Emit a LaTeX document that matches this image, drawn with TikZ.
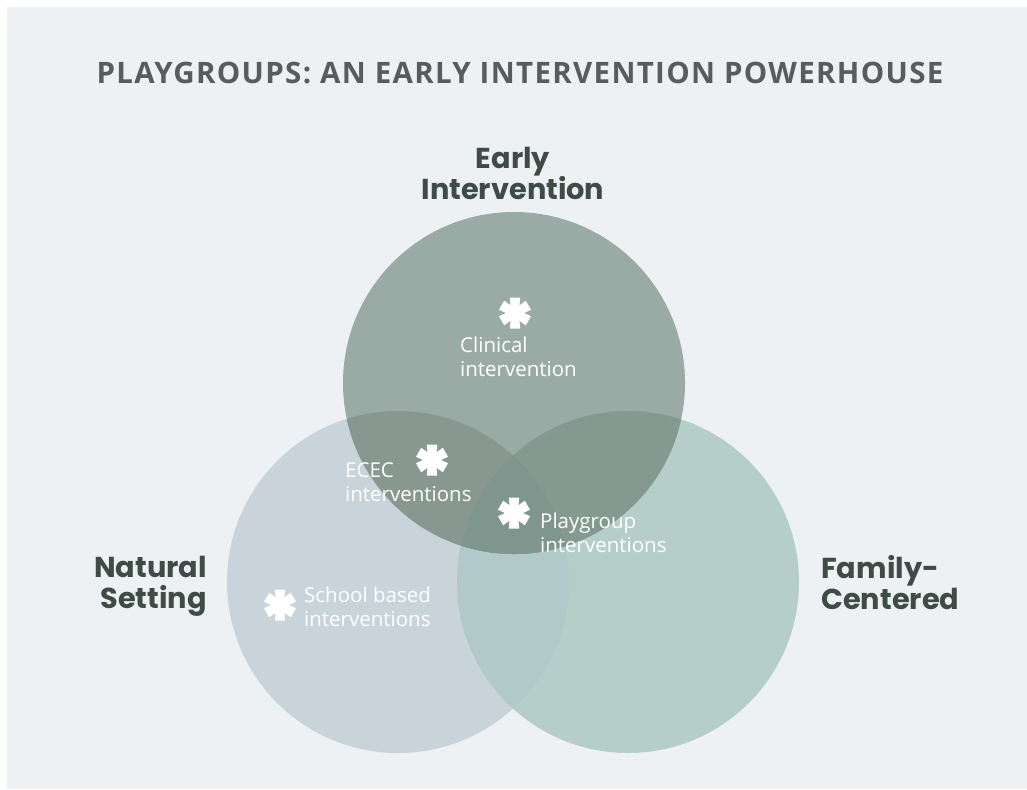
\documentclass[tikz,border=0pt]{standalone}
\usepackage{fontspec}
\setmainfont{Open Sans}
\newfontfamily\headfont{Poppins}
\newfontfamily\titlefont{Open Sans}[LetterSpace=4.5]
\definecolor{panel}{HTML}{EDF1F4}
\definecolor{cT}{HTML}{9AAAA4}
\definecolor{cL}{HTML}{C9D4DA}
\definecolor{cR}{HTML}{B5CEC9}
\definecolor{cTL}{HTML}{889891}
\definecolor{cTR}{HTML}{849A91}
\definecolor{cLR}{HTML}{B1C9C8}
\definecolor{cTLR}{HTML}{7F968E}
\definecolor{headcol}{HTML}{3E4C45}
\definecolor{titlecol}{HTML}{5A5B5D}
\tikzset{
  circlehead/.style={font=\headfont\bfseries\fontsize{28.8}{31}\selectfont, text=headcol, inner sep=0pt},
  innerlabel/.style={font=\fontsize{20.5}{23.5}\selectfont, text=white, align=left, inner sep=0pt, anchor=west},
  astmark/.pic={
    \fill[white] (0,0) circle (6.5);
    \foreach \a in {90,30,-30,-90,-150,150}
      \fill[white, rotate=\a] (0,-3.8) -- (15.5,-5.2) -- (15.5,5.2) -- (0,3.8) -- cycle;
  }
}
\begin{document}
\begin{tikzpicture}[x=1pt,y=-1pt]
\useasboundingbox (0,0) rectangle (1027,789);
\fill[white] (0,0) rectangle (1027,789);
\fill[panel] (7,7) rectangle (1027,789);

% three overlapping circles
\coordinate (T) at (514,383);
\coordinate (L) at (398,582);
\coordinate (R) at (628,582);
\def\rad{171}
\fill[cL] (L) circle (\rad);
\fill[cR] (R) circle (\rad);
\fill[cT] (T) circle (\rad);
\begin{scope}\clip (L) circle (\rad); \fill[cLR] (R) circle (\rad); \end{scope}
\begin{scope}\clip (T) circle (\rad); \fill[cTL] (L) circle (\rad); \end{scope}
\begin{scope}\clip (T) circle (\rad); \fill[cTR] (R) circle (\rad); \end{scope}
\begin{scope}\clip (T) circle (\rad); \clip (L) circle (\rad); \fill[cTLR] (R) circle (\rad); \end{scope}

% title
\node[font=\titlefont\bfseries\fontsize{29.5}{34}\selectfont, text=titlecol, inner sep=0pt] (title) at (520,73)
  {PLAYGROUPS: AN EARLY INTERVENTION POWERHOUSE};

% circle headings
\node[circlehead, align=center] (early) at (513,173) {Early\\Intervention};
\node[circlehead, align=right, anchor=east] (natural) at (207,586) {Natural\\Setting};
\node[circlehead, align=left, anchor=west] (family) at (821,583) {Family-\\Centered};

% asterisks
\pic at (515,313) {astmark};
\pic at (432,460) {astmark};
\pic at (514,513) {astmark};
\pic at (280,605) {astmark};

% inner labels
\node[innerlabel] (clinical) at (460,357) {Clinical\\intervention};
\node[innerlabel] (ecec) at (345,482) {ECEC\\interventions};
\node[innerlabel] (playgroup) at (540,533) {Playgroup\\interventions};
\node[innerlabel] (school) at (304,607) {School based\\interventions};
\end{tikzpicture}
\end{document}
